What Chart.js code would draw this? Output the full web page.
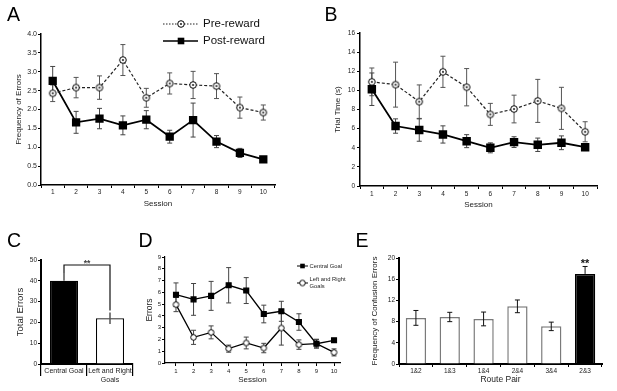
<!DOCTYPE html>
<html>
<head>
<meta charset="utf-8">
<script src="https://cdn.jsdelivr.net/npm/chart.js@4.4.0/dist/chart.umd.min.js"></script>
<style>
body{margin:0;background:#fff;}
#fig{position:relative;width:617px;height:391px;overflow:hidden;background:#fff;}
#fig canvas{position:absolute;left:0;top:0;}
</style>
</head>
<body>
<div id="fig">
<canvas id="chartA" width="617" height="391"></canvas>
<canvas id="chartB" width="617" height="391"></canvas>
<canvas id="chartC" width="617" height="391"></canvas>
<canvas id="chartD" width="617" height="391"></canvas>
<canvas id="chartE" width="617" height="391"></canvas>
</div>
<script>
// datos
const sessions = ['1','2','3','4','5','6','7','8','9','10'];

// A - frecuencia de errores
const preRewardErrors = [2.43, 2.58, 2.58, 3.31, 2.31, 2.69, 2.65, 2.62, 2.05, 1.92];
const preRewardErrorsSem = [0.22, 0.27, 0.31, 0.41, 0.25, 0.28, 0.36, 0.33, 0.28, 0.2];
const postRewardErrors = [2.76, 1.66, 1.76, 1.58, 1.73, 1.28, 1.72, 1.15, 0.85, 0.68];
const postRewardErrorsSem = [0.38, 0.29, 0.27, 0.25, 0.24, 0.17, 0.45, 0.16, 0.12, 0.05];

// B - tiempo por ensayo
const preRewardTime = [10.89, 10.6, 8.82, 11.94, 10.33, 7.49, 8.05, 8.9, 8.12, 5.67];
const preRewardTimeSem = [1.45, 2.35, 1.75, 1.63, 1.95, 1.15, 1.45, 2.25, 2.2, 1.05];
const postRewardTime = [10.12, 6.27, 5.85, 5.39, 4.69, 3.99, 4.59, 4.31, 4.52, 4.06];
const postRewardTimeSem = [1.7, 0.75, 1.17, 0.9, 0.68, 0.52, 0.56, 0.7, 0.72, 0.35];

// C - errores totales
const goalTypes = ['Central Goal', ['Left and Right', 'Goals']];
const totalErrors = [40, 22];
const totalErrorsSem = [3.8, 2.8];

// D - errores por sesion
const centralGoal = [5.8, 5.4, 5.7, 6.6, 6.15, 4.16, 4.39, 3.48, 1.64, 1.93];
const centralGoalSem = [1.0, 1.35, 1.23, 1.5, 1.1, 0.75, 0.85, 0.7, 0.35, 0.12];
const leftRightGoals = [4.96, 2.18, 2.6, 1.22, 1.7, 1.27, 2.97, 1.56, 1.64, 0.9];
const leftRightGoalsSem = [0.6, 0.6, 0.55, 0.3, 0.5, 0.4, 1.45, 0.4, 0.38, 0.3];

// E - errores de confusion
const routePairs = ['1&2', '1&3', '1&4', '2&4', '3&4', '2&3'];
const confusionErrors = [8.7, 8.87, 8.5, 10.88, 7.1, 17.0];
const confusionErrorsSem = [1.4, 0.88, 1.3, 1.2, 0.8, 1.4];

const W = 617, H = 391;
const FUENTE = '"Liberation Sans", Arial, Helvetica, sans-serif';
Chart.defaults.font.family = FUENTE;
Chart.defaults.color = '#222';

function marco(area, yW, xH){
    return { left: area[0] - yW, top: area[1], right: W - area[2], bottom: H - area[3] - xH };
}

function circuloPunto(r, punto){
    const c = document.createElement('canvas');
    const s = Math.ceil(r * 2 + 3);
    c.width = s; c.height = s;
    const g = c.getContext('2d');
    g.fillStyle = '#fff'; g.strokeStyle = '#000'; g.lineWidth = 1;
    g.beginPath(); g.arc(s/2, s/2, r, 0, Math.PI*2); g.fill(); g.stroke();
    if(punto){
        g.fillStyle = '#000';
        g.beginPath(); g.arc(s/2, s/2, 0.9, 0, Math.PI*2); g.fill();
    }
    return c;
}
const circuloA = circuloPunto(3.3, true);
const circuloD = circuloPunto(2.8, false);

function ejeY(o){
    const eje = {
        min: o.min, max: o.max,
        afterFit: s => { s.width = o.ancho; },
        border: { display: true, color: '#000', width: o.borde || 1.5 },
        grid: { drawOnChartArea: false, color: '#000', tickLength: 3, lineWidth: 1 },
        ticks: { stepSize: o.step, padding: o.pad === undefined ? 1 : o.pad, color: '#222', font: { size: o.tick || 6.5 } },
        title: { display: true, text: o.titulo, color: '#222', font: { size: o.size || 8 }, padding: { top: 4, bottom: 4 } }
    };
    if(o.fmt) eje.ticks.callback = o.fmt;
    return eje;
}

function ejeX(o){
    const eje = {
        type: o.type || 'category',
        offset: !!o.offset,
        afterFit: s => { s.height = o.alto; },
        border: { display: true, color: '#000', width: o.borde || 1.5 },
        grid: { drawOnChartArea: false, color: '#000', tickLength: o.tick || 3, offset: !!o.offset, lineWidth: o.gridAncho || 1 },
        ticks: { padding: o.pad || 0, maxRotation: 0, autoSkip: false, color: '#222', font: { size: o.fsize || 6.5, lineHeight: o.lh || 1.2 } },
        title: { display: !!o.titulo, text: o.titulo || '', color: '#222', font: { size: o.size || 8 }, padding: { top: 4, bottom: 4 } }
    };
    if(o.type === 'linear'){
        eje.min = o.min; eje.max = o.max;
        eje.ticks.stepSize = 1;
        eje.ticks.includeBounds = false;
    }
    return eje;
}

function dibujarErrores(chart, encima){
    const ctx = chart.ctx;
    chart.data.datasets.forEach((ds, i) => {
        if(!ds.errores || !!ds.errorEncima !== encima) return;
        const meta = chart.getDatasetMeta(i);
        const ys = chart.scales[meta.yAxisID];
        const cap = ds.errorCap === undefined ? 2.5 : ds.errorCap;
        ctx.save();
        ctx.strokeStyle = ds.errorColor || '#444';
        ctx.lineWidth = ds.errorAncho || 1;
        meta.data.forEach((el, j) => {
            const d = ds.data[j];
            const v = typeof d === 'object' ? d.y : d;
            const e = ds.errores[j];
            const x = el.x;
            const soloArriba = ds.errorAbajo && !ds.errorAbajo[j];
            const y1 = ys.getPixelForValue(v + e);
            const y2 = soloArriba ? ys.getPixelForValue(v) : ys.getPixelForValue(v - e);
            ctx.beginPath();
            ctx.moveTo(x, y1); ctx.lineTo(x, y2);
            if(cap){
                ctx.moveTo(x - cap, y1); ctx.lineTo(x + cap, y1);
                if(!soloArriba){
                    ctx.moveTo(x - cap, y2); ctx.lineTo(x + cap, y2);
                }
            }
            ctx.stroke();
        });
        ctx.restore();
    });
}

const barrasError = {
    id: 'barrasError',
    beforeDatasetsDraw(chart){ dibujarErrores(chart, false); },
    afterDatasetsDraw(chart){ dibujarErrores(chart, true); }
};

const letras = {
    id: 'letras',
    afterDraw(chart){
        const ctx = chart.ctx;
        ctx.save();
        ctx.fillStyle = '#000';
        ctx.font = '19.5px ' + FUENTE;
        ctx.textBaseline = 'alphabetic';
        ctx.fillText('A', 7, 21);
        ctx.fillText('B', 324.5, 21);
        ctx.fillText('C', 7, 247);
        ctx.fillText('D', 138.5, 247);
        ctx.fillText('E', 355.5, 247);
        ctx.restore();
    }
};

const leyendaA = {
    id: 'leyendaA',
    afterDraw(chart){
        const ctx = chart.ctx;
        const ds = chart.data.datasets;
        ctx.save();
        ctx.strokeStyle = '#222'; ctx.lineWidth = 1; ctx.setLineDash([1.5, 1.5]);
        ctx.beginPath(); ctx.moveTo(163, 24); ctx.lineTo(198, 24); ctx.stroke();
        ctx.setLineDash([]);
        ctx.drawImage(circuloA, 181 - circuloA.width/2, 24 - circuloA.height/2);
        ctx.strokeStyle = '#000'; ctx.lineWidth = 1.6;
        ctx.beginPath(); ctx.moveTo(163, 41); ctx.lineTo(198, 41); ctx.stroke();
        ctx.fillStyle = '#000'; ctx.fillRect(181 - 3.3, 41 - 3.3, 6.6, 6.6);
        ctx.font = '11.5px ' + FUENTE;
        ctx.textBaseline = 'middle'; ctx.fillStyle = '#111';
        ctx.fillText(ds[0].label, 203, 24);
        ctx.fillText(ds[1].label, 203, 41);
        ctx.restore();
    }
};

const leyendaD = {
    id: 'leyendaD',
    afterDraw(chart){
        const ctx = chart.ctx;
        ctx.save();
        ctx.strokeStyle = '#000'; ctx.lineWidth = 1;
        ctx.beginPath(); ctx.moveTo(297, 266); ctx.lineTo(308, 266); ctx.stroke();
        ctx.beginPath(); ctx.moveTo(297, 283); ctx.lineTo(308, 283); ctx.stroke();
        ctx.fillStyle = '#000'; ctx.fillRect(302.5 - 2.3, 266 - 2.3, 4.6, 4.6);
        ctx.drawImage(circuloD, 302.5 - circuloD.width/2, 283 - circuloD.height/2);
        ctx.font = '5.8px ' + FUENTE;
        ctx.textBaseline = 'middle'; ctx.fillStyle = '#222';
        ctx.fillText('Central Goal', 309.5, 266);
        ctx.fillText('Left and Right', 309.5, 279.5);
        ctx.fillText('Goals', 309.5, 286.5);
        ctx.restore();
    }
};

const llaveC = {
    id: 'llaveC',
    afterDatasetsDraw(chart){
        const xs = chart.scales.x, ys = chart.scales.y, ctx = chart.ctx;
        const x1 = xs.getPixelForValue(0), x2 = xs.getPixelForValue(1);
        const yTop = ys.getPixelForValue(47.6);
        const y1 = ys.getPixelForValue(totalErrors[0] + totalErrorsSem[0]);
        const y2 = ys.getPixelForValue(totalErrors[1] + totalErrorsSem[1]) - 2;
        ctx.save();
        ctx.strokeStyle = '#111'; ctx.lineWidth = 1.2;
        ctx.beginPath();
        ctx.moveTo(x1, y1); ctx.lineTo(x1, yTop); ctx.lineTo(x2, yTop); ctx.lineTo(x2, y2);
        ctx.stroke();
        ctx.fillStyle = '#444';
        ctx.font = 'bold 8.5px ' + FUENTE;
        ctx.textAlign = 'center'; ctx.textBaseline = 'alphabetic';
        ctx.fillText('**', (x1 + x2) / 2, yTop + 1);
        ctx.restore();
    }
};

const estrellasE = {
    id: 'estrellasE',
    afterDatasetsDraw(chart){
        const xs = chart.scales.x, ys = chart.scales.y, ctx = chart.ctx;
        const k = confusionErrors.length - 1;
        const x = xs.getPixelForValue(k);
        const y = ys.getPixelForValue(confusionErrors[k] + confusionErrorsSem[k]);
        ctx.save();
        ctx.fillStyle = '#111';
        ctx.font = 'bold 11px ' + FUENTE;
        ctx.textAlign = 'center'; ctx.textBaseline = 'alphabetic';
        ctx.fillText('**', x, y + 1);
        ctx.restore();
    }
};

const base = {
    responsive: false,
    animation: false,
    events: [],
    plugins: { legend: { display: false }, tooltip: { enabled: false } }
};

function graficoA(){
    new Chart(document.getElementById('chartA'), {
        type: 'line',
        plugins: [barrasError, leyendaA, letras],
        data: {
            labels: sessions,
            datasets: [
                { label: 'Pre-reward', data: preRewardErrors, errores: preRewardErrorsSem, errorColor: '#555',
                  borderColor: '#222', borderWidth: 1.2, borderDash: [3, 2], pointStyle: circuloA, pointRadius: 3.3 },
                { label: 'Post-reward', data: postRewardErrors, errores: postRewardErrorsSem, errorColor: '#444',
                  borderColor: '#000', borderWidth: 1.8, pointStyle: 'rect', pointRadius: 4.6,
                  pointBackgroundColor: '#000', pointBorderColor: '#000' }
            ]
        },
        options: Object.assign({}, base, {
            layout: { padding: marco([41, 34, 275, 185], 31.3, 27.8) },
            scales: {
                x: ejeX({ offset: true, alto: 27.8, pad: 0, titulo: 'Session' }),
                y: ejeY({ min: 0, max: 4, step: 0.5, ancho: 31.3, tick: 7, titulo: 'Frequency of Errors', fmt: v => v.toFixed(1) })
            }
        })
    });
}

function graficoB(){
    new Chart(document.getElementById('chartB'), {
        type: 'line',
        plugins: [barrasError],
        data: {
            labels: sessions,
            datasets: [
                { label: 'Pre-reward', data: preRewardTime, errores: preRewardTimeSem, errorColor: '#555',
                  borderColor: '#222', borderWidth: 1.2, borderDash: [3, 2], pointStyle: circuloA, pointRadius: 3.3 },
                { label: 'Post-reward', data: postRewardTime, errores: postRewardTimeSem, errorColor: '#444',
                  borderColor: '#000', borderWidth: 1.8, pointStyle: 'rect', pointRadius: 4.7,
                  pointBackgroundColor: '#000', pointBorderColor: '#000' }
            ]
        },
        options: Object.assign({}, base, {
            layout: { padding: marco([360, 33, 597, 186], 30.8, 27.8) },
            scales: {
                x: ejeX({ offset: true, alto: 27.8, pad: 1.7, titulo: 'Session' }),
                y: ejeY({ min: 0, max: 16, step: 2, ancho: 30.8, pad: 2, titulo: 'Trial Time (s)' })
            }
        })
    });
}

function graficoC(){
    new Chart(document.getElementById('chartC'), {
        type: 'bar',
        plugins: [barrasError, llaveC],
        data: {
            labels: goalTypes,
            datasets: [{
                data: totalErrors, errores: totalErrorsSem, errorEncima: true, errorCap: 0,
                errorAbajo: [false, true], errorColor: '#555', errorAncho: 1.5,
                backgroundColor: ['#000', '#fff'], borderColor: '#000', borderWidth: 1.2,
                barPercentage: 0.61, categoryPercentage: 1
            }]
        },
        options: Object.assign({}, base, {
            layout: { padding: marco([41, 260, 133, 364], 30.7, 24) },
            scales: {
                x: ejeX({ offset: true, alto: 24, tick: 12, pad: -10.2, fsize: 7, lh: 1.4, borde: 2, gridAncho: 1.2 }),
                y: ejeY({ min: 0, max: 50, step: 5, ancho: 30.7, borde: 2, titulo: 'Total Errors', size: 9.5 })
            }
        })
    });
}

function graficoD(){
    const puntos = arr => arr.map((v, i) => ({ x: Number(sessions[i]), y: v }));
    new Chart(document.getElementById('chartD'), {
        type: 'line',
        plugins: [barrasError, leyendaD],
        data: {
            datasets: [
                { label: 'Central Goal', data: puntos(centralGoal), errores: centralGoalSem, errorColor: '#444',
                  borderColor: '#000', borderWidth: 1.3, pointStyle: 'rect', pointRadius: 3.4,
                  pointBackgroundColor: '#000', pointBorderColor: '#000' },
                { label: 'Left and Right Goals', data: puntos(leftRightGoals), errores: leftRightGoalsSem, errorColor: '#444',
                  borderColor: '#000', borderWidth: 1.3, pointStyle: circuloD, pointRadius: 2.8 }
            ]
        },
        options: Object.assign({}, base, {
            layout: { padding: marco([165, 257, 340, 363], 24.1, 25.8) },
            scales: {
                x: ejeX({ type: 'linear', min: 0.374, max: 10.34, alto: 25.8, pad: 1.4, fsize: 6, borde: 1.2, titulo: 'Session', size: 8 }),
                y: ejeY({ min: 0, max: 9, step: 1, ancho: 24.1, borde: 1.2, tick: 6, titulo: 'Errors', size: 8.5 })
            }
        })
    });
}

function graficoE(){
    new Chart(document.getElementById('chartE'), {
        type: 'bar',
        plugins: [barrasError, estrellasE],
        data: {
            labels: routePairs,
            datasets: [{
                data: confusionErrors, errores: confusionErrorsSem, errorEncima: true, errorColor: '#111', errorAncho: 1,
                errorAbajo: [true, true, true, true, true, false],
                backgroundColor: ['#fff', '#fff', '#fff', '#fff', '#fff', '#000'],
                borderColor: ['#7a7a7a', '#7a7a7a', '#7a7a7a', '#7a7a7a', '#7a7a7a', '#000'], borderWidth: 1.5,
                barPercentage: 0.6, categoryPercentage: 1
            }]
        },
        options: Object.assign({}, base, {
            layout: { padding: marco([399, 258, 602, 364], 32.8, 25.1) },
            scales: {
                x: ejeX({ offset: true, alto: 25.1, pad: 0, borde: 2, titulo: 'Route Pair', size: 8.5 }),
                y: ejeY({ min: 0, max: 20, step: 2, ancho: 32.8, borde: 2, titulo: 'Frequency of Confusion Errors', size: 8 })
            }
        })
    });
}

graficoA();
graficoB();
graficoC();
graficoD();
graficoE();
</script>
</body>
</html>
